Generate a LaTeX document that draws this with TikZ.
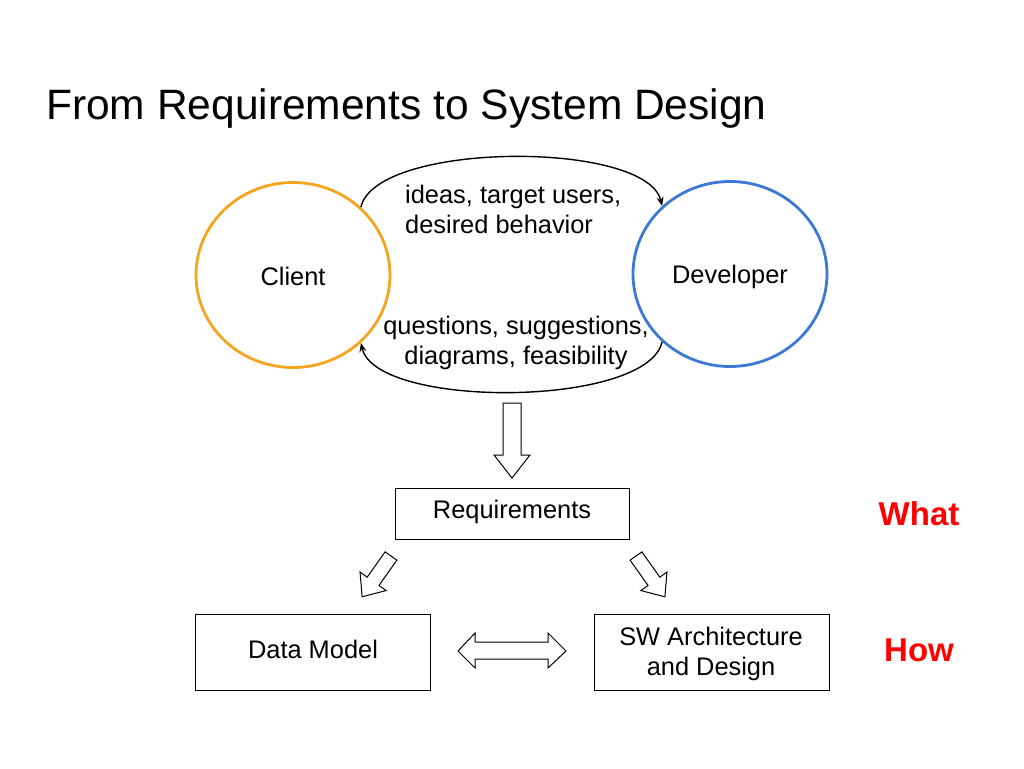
\documentclass[tikz,border=0pt]{standalone}
\usepackage{fontspec}
\setmainfont{Liberation Sans}
\usetikzlibrary{arrows.meta,shapes.geometric}
\definecolor{clorange}{RGB}{245,164,30}
\definecolor{devblue}{RGB}{60,120,214}
\definecolor{hred}{RGB}{255,0,0}
\tikzset{
  body/.style={font=\fontsize{25.4}{30}\selectfont, inner sep=0pt},
  party/.style={ellipse, draw, line width=2.8pt, minimum width=194pt, minimum height=185pt, inner sep=0pt},
  plainbox/.style={draw, line width=1pt, inner sep=0pt},
  flow/.style={line width=1.4pt, -{Stealth[length=9pt,width=7pt]}},
  blockarrow/.style={draw, line width=1pt, fill=white, line join=miter},
  label/.style={font=\bfseries\fontsize{33}{40}\selectfont, text=hred, inner sep=0pt}
}
\begin{document}
\begin{tikzpicture}[x=1pt,y=-1pt]
\useasboundingbox (0,0) rectangle (1024,768);
\fill[white] (0,0) rectangle (1024,768);

% title
\node[anchor=base west, inner sep=0pt, font=\fontsize{42.5}{50}\selectfont] (title) at (46,119) {From Requirements to System Design};

% client and developer
\node[party, draw=clorange] (client) at (293,275) {};
\node[party, draw=devblue] (dev) at (730,274) {};
\node[body, anchor=base] (clientlbl) at (293,285) {Client};
\node[body, anchor=base] (devlbl) at (730,283) {Developer};

% exchange arcs
\draw[flow] (client.45) .. controls +(15,-66) and +(-15,-66) .. (dev.135);
\draw[flow] (dev.-135) .. controls +(-15,66) and +(15,66) .. (client.-45);

\node[body, anchor=base west, align=left] (ideas) at (405,233) {ideas, target users,\\desired behavior};
\node[body, anchor=base, align=center] (quest) at (516,364) {questions, suggestions,\\diagrams, feasibility};

% down block arrow
\draw[blockarrow] (503,403) -- (521,403) -- (521,455) -- (530,455) -- (512,478) -- (494,455) -- (503,455) -- cycle;

% requirements box
\draw[plainbox] (395,488) rectangle (629,539);
\node[body, anchor=base] (req) at (512,518) {Requirements};

% diagonal block arrows
\begin{scope}[shift={(391,556)}, rotate=-125.3]
  \draw[blockarrow] (0,-7.2) -- (31,-7.2) -- (31,-16) -- (50,0) -- (31,16) -- (31,7.2) -- (0,7.2) -- cycle;
\end{scope}
\begin{scope}[shift={(636,556)}, rotate=-54.7]
  \draw[blockarrow] (0,-7.2) -- (31,-7.2) -- (31,-16) -- (50,0) -- (31,16) -- (31,7.2) -- (0,7.2) -- cycle;
\end{scope}

% lower boxes
\draw[plainbox] (195,614) rectangle (430,690);
\node[body, anchor=base] (dm) at (313,658) {Data Model};
\draw[plainbox] (594,614) rectangle (829,690);
\node[body, anchor=base, align=center] (sw) at (711,675) {SW Architecture\\and Design};

% double block arrow
\draw[blockarrow] (458,651) -- (475,633) -- (475,642) -- (548,642) -- (548,633) -- (566,651) -- (548,668) -- (548,659) -- (475,659) -- (475,668) -- cycle;

% what / how
\node[label, anchor=base] (what) at (919,525) {What};
\node[label, anchor=base] (how) at (919,661) {How};
\end{tikzpicture}
\end{document}
